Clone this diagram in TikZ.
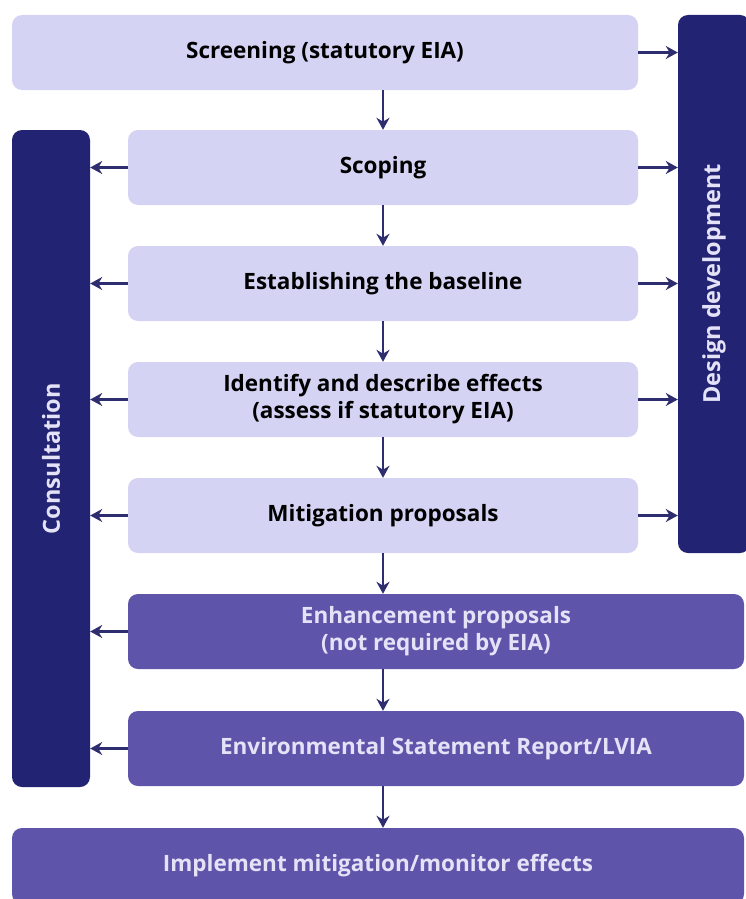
\documentclass[tikz,border=0pt]{standalone}
\usepackage{fontspec}
\setmainfont{Open Sans}
\usetikzlibrary{arrows.meta}
\definecolor{stagefill}{HTML}{D5D3F4}
\definecolor{laterfill}{HTML}{5E54AA}
\definecolor{barfill}{HTML}{232373}
\definecolor{lighttext}{HTML}{E4E2F7}
\definecolor{arrowcol}{HTML}{2E2D70}
\tikzset{
  box/.style={rounded corners=10pt,inner sep=0pt,align=center,font=\fontsize{22.5}{27}\selectfont\bfseries},
  stagebox/.style={box,fill=stagefill,text=black},
  laterbox/.style={box,fill=laterfill,text=lighttext},
  sidebar/.style={box,fill=barfill,text=lighttext,rotate=90,font=\fontsize{23.5}{28}\selectfont\bfseries},
  flow/.style={draw=arrowcol,line width=2.2pt,-{Stealth[length=12pt,width=13pt]}}
}
\begin{document}
\begin{tikzpicture}[x=1pt,y=-1pt]
\useasboundingbox (0,0) rectangle (746,899);
% side bars
\node[sidebar,minimum width=657,minimum height=78] (consult) at (51,458.5) {Consultation};
\node[sidebar,minimum width=538,minimum height=72] (design) at (714,284) {Design development};
% stages
\node[stagebox,minimum width=626,minimum height=75] (screen) at (325,52.5) {Screening (statutory EIA)};
\node[stagebox,minimum width=510,minimum height=75] (scope) at (383,167.5) {Scoping};
\node[stagebox,minimum width=510,minimum height=75] (base) at (383,283.5) {Establishing the baseline};
\node[stagebox,minimum width=510,minimum height=75] (effects) at (383,399.5) {Identify and describe effects\\(assess if statutory EIA)};
\node[stagebox,minimum width=510,minimum height=75] (mitig) at (383,515.5) {Mitigation proposals};
\node[laterbox,minimum width=616,minimum height=75] (enhance) at (436,631.5) {Enhancement proposals\\(not required by EIA)};
\node[laterbox,minimum width=616,minimum height=75] (report) at (436,748.5) {Environmental Statement Report/LVIA};
\node[laterbox,minimum width=732,minimum height=76] (implement) at (378,866) {Implement mitigation/monitor effects};
% down the chain
\draw[flow] (scope.north |- screen.south) -- (scope.north);
\draw[flow] (scope.south) -- (base.north);
\draw[flow] (base.south) -- (effects.north);
\draw[flow] (effects.south) -- (mitig.north);
\draw[flow] (mitig.south) -- (mitig.south |- enhance.north);
\draw[flow] (mitig.south |- enhance.south) -- (mitig.south |- report.north);
\draw[flow] (mitig.south |- report.south) -- (mitig.south |- implement.north);
% to consultation
\foreach \s in {scope,base,effects,mitig,enhance,report}
  \draw[flow] (\s.west) -- (\s.west -| consult.south);
% to design development
\foreach \s in {screen,scope,base,effects,mitig}
  \draw[flow] (\s.east) -- (\s.east -| design.north);
\end{tikzpicture}
\end{document}
